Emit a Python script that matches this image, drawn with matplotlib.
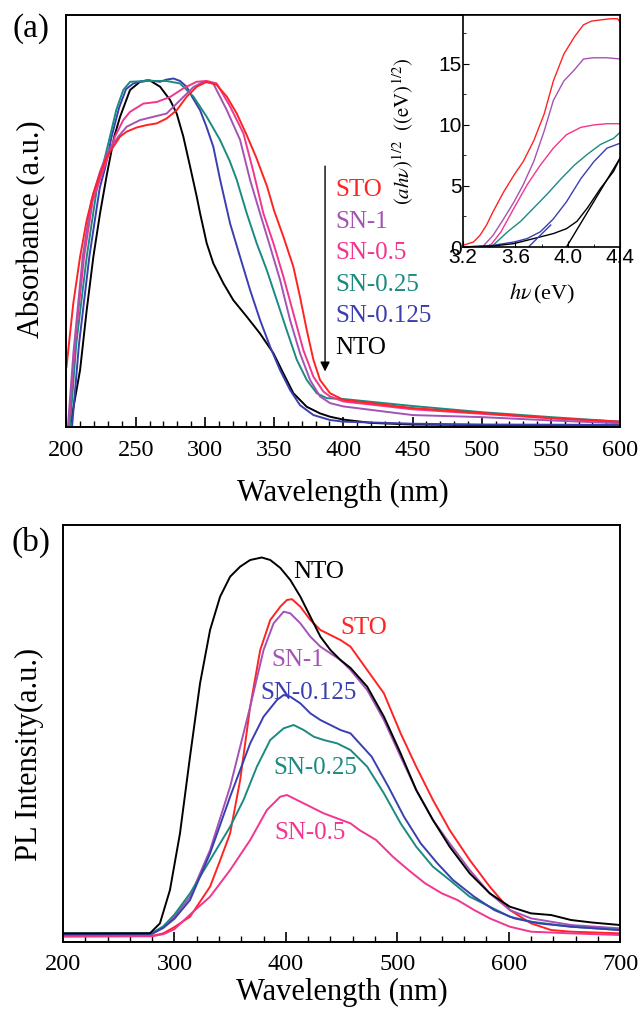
import numpy as np
import matplotlib
matplotlib.use("Agg")
from matplotlib import pyplot as plt
from matplotlib.ticker import MultipleLocator

plt.rcParams['font.family'] = ['Liberation Serif', 'DejaVu Serif']
plt.rcParams['mathtext.fontset'] = 'stix'

names = ['STO', 'SN-1', 'SN-0.5', 'SN-0.25', 'SN-0.125', 'NTO']
colors = {'STO': '#ff2323', 'SN-1': '#a453b5', 'SN-0.5': '#f2358e',
          'SN-0.25': '#1b8a80', 'SN-0.125': '#3a3fb0', 'NTO': '#000000'}

# ---- (a) absorbance, normalised ----
abs_wl = {
    'STO': [200, 204.9, 209.8, 214.6, 219.4, 224.2, 229, 233.8, 238.7, 243.5, 250.7, 258, 265.2, 272.4, 279.6, 286.9, 294.1, 301.3, 308.6, 315.8, 323, 330, 337, 345, 350, 356.7, 363.9, 368.7, 373.6, 378.4, 383.2, 390.4, 400, 450, 500, 550, 600],
    'SN-1': [201, 205, 211.7, 218, 224.2, 230, 237.5, 243.5, 253.1, 262.8, 272.4, 282, 291.7, 298.9, 306, 315.7, 325.4, 332.6, 339.8, 347.1, 354.3, 361.5, 368.7, 376, 383.2, 390.4, 400, 450, 500, 550, 600],
    'SN-0.5': [201.5, 206, 212.7, 219, 226.6, 235, 241, 245.9, 255.5, 265.2, 274.8, 284.4, 294, 301.3, 308.5, 318.2, 327.8, 335, 342.2, 349.5, 356.7, 363.9, 371.1, 378.4, 385.6, 390.4, 400, 450, 500, 550, 600],
    'SN-0.25': [202.5, 207, 214.6, 222, 226, 231.4, 236, 241, 246, 258, 272, 282, 291.7, 301.3, 310.9, 318, 323, 330.2, 337.4, 344.7, 351.9, 359.1, 366.4, 373.6, 380.8, 388, 400, 450, 500, 550, 600],
    'SN-0.125': [204, 209, 216.5, 224, 228, 232.6, 238, 243, 248.3, 258, 267.6, 272, 277.2, 282, 286.8, 291, 296.5, 301, 306.1, 311, 318.2, 325.4, 332.6, 339.8, 347.1, 354.3, 361.5, 368.7, 378.4, 390.4, 400, 450, 500, 600],
    'NTO': [202.5, 209.8, 214.6, 219.4, 224.2, 229, 234.5, 238.7, 245.9, 253.1, 260.3, 267.6, 274.8, 279.6, 284.4, 289.3, 294.1, 296.5, 301.3, 306.1, 313.3, 320.5, 330.2, 339.8, 349.5, 356.7, 363.9, 373.6, 383.2, 390.4, 400, 420, 450, 500, 600],
}
abs_val = {
    'STO': [0.146, 0.300, 0.413, 0.502, 0.567, 0.615, 0.656, 0.680, 0.705, 0.717, 0.727, 0.733, 0.737, 0.749, 0.769, 0.802, 0.826, 0.838, 0.830, 0.802, 0.761, 0.710, 0.655, 0.583, 0.525, 0.462, 0.389, 0.316, 0.235, 0.163, 0.114, 0.082, 0.066, 0.046, 0.034, 0.022, 0.013],
    'SN-1': [0.000, 0.180, 0.413, 0.550, 0.620, 0.670, 0.705, 0.729, 0.745, 0.753, 0.761, 0.793, 0.825, 0.838, 0.834, 0.770, 0.697, 0.600, 0.519, 0.438, 0.357, 0.260, 0.179, 0.114, 0.074, 0.058, 0.050, 0.029, 0.024, 0.016, 0.009],
    'SN-0.5': [0.000, 0.200, 0.413, 0.550, 0.624, 0.705, 0.745, 0.765, 0.785, 0.789, 0.801, 0.822, 0.838, 0.840, 0.834, 0.778, 0.713, 0.620, 0.519, 0.446, 0.365, 0.276, 0.187, 0.122, 0.086, 0.074, 0.062, 0.043, 0.032, 0.021, 0.012],
    'SN-0.25': [0.000, 0.200, 0.413, 0.580, 0.630, 0.705, 0.770, 0.818, 0.838, 0.840, 0.840, 0.834, 0.802, 0.753, 0.697, 0.645, 0.600, 0.519, 0.446, 0.381, 0.308, 0.235, 0.163, 0.114, 0.082, 0.070, 0.068, 0.051, 0.036, 0.024, 0.013],
    'SN-0.125': [0.000, 0.200, 0.413, 0.580, 0.630, 0.705, 0.775, 0.820, 0.834, 0.842, 0.838, 0.843, 0.846, 0.840, 0.826, 0.800, 0.769, 0.730, 0.680, 0.600, 0.494, 0.413, 0.333, 0.260, 0.195, 0.138, 0.090, 0.053, 0.029, 0.017, 0.013, 0.008, 0.006, 0.005],
    'NTO': [0.000, 0.138, 0.284, 0.413, 0.518, 0.610, 0.705, 0.753, 0.818, 0.838, 0.841, 0.826, 0.794, 0.761, 0.705, 0.632, 0.559, 0.519, 0.446, 0.397, 0.349, 0.308, 0.268, 0.227, 0.179, 0.130, 0.082, 0.049, 0.033, 0.025, 0.018, 0.010, 0.006, 0.005, 0.005],
}

# ---- inset: Tauc plot ----
tauc_e = {
    'STO': [3.20, 3.28, 3.33, 3.38, 3.43, 3.51, 3.59, 3.66, 3.74, 3.82, 3.89, 3.97, 4.05, 4.12, 4.18, 4.25, 4.33, 4.38, 4.40],
    'SN-1': [3.36, 3.43, 3.51, 3.59, 3.66, 3.74, 3.82, 3.89, 3.97, 4.05, 4.12, 4.20, 4.30, 4.40],
    'SN-0.5': [3.41, 3.49, 3.59, 3.69, 3.79, 3.89, 3.99, 4.10, 4.20, 4.30, 4.40],
    'SN-0.25': [3.43, 3.54, 3.64, 3.74, 3.84, 3.95, 4.05, 4.15, 4.25, 4.35, 4.40],
    'SN-0.125': [3.20, 3.43, 3.59, 3.69, 3.79, 3.89, 3.99, 4.10, 4.20, 4.30, 4.40],
    'NTO': [3.20, 3.43, 3.59, 3.74, 3.89, 3.99, 4.07, 4.15, 4.25, 4.35, 4.40],
}
tauc_v = {
    'STO': [0.14, 0.41, 0.96, 1.8, 2.9, 4.5, 5.9, 7.0, 8.7, 10.9, 13.6, 15.8, 17.2, 18.2, 18.5, 18.6, 18.7, 18.7, 18.4],
    'SN-1': [0.14, 0.96, 2.3, 3.7, 5.1, 7.0, 9.5, 12.0, 13.6, 14.5, 15.4, 15.5, 15.5, 15.4],
    'SN-0.5': [0.14, 1.24, 3.2, 5.1, 6.7, 8.1, 9.2, 9.8, 10.0, 10.1, 10.1],
    'SN-0.25': [0.14, 1.24, 2.1, 3.2, 4.3, 5.6, 6.7, 7.6, 8.4, 8.9, 9.4],
    'SN-0.125': [0.0, 0.14, 0.41, 0.69, 1.24, 2.3, 3.7, 5.6, 7.0, 8.1, 8.5],
    'NTO': [0.0, 0.08, 0.28, 0.69, 1.1, 1.5, 2.1, 3.2, 4.8, 6.2, 7.3],
}
# extrapolated band-edge lines
fit_e = {'SN-0.125': [3.70, 3.87], 'NTO': [3.99, 4.4]}
fit_v = {'SN-0.125': [0.0, 1.8], 'NTO': [0.0, 7.3]}

# ---- (b) PL ----
pl_wl = {
    'NTO': [200, 278, 287, 296, 305, 314, 323, 332, 341, 350, 359, 368, 378.4, 386, 395, 404, 413, 422, 431, 440, 449, 458, 473, 488, 503, 517, 532, 547, 565, 583, 601, 620, 638, 656, 675, 700],
    'STO': [200, 280, 290, 300, 314, 332, 341, 350, 359, 368, 377, 386, 395, 401, 405.5, 413, 422, 431, 440, 449, 458, 473, 488, 503, 517, 532, 547, 565, 583, 601, 620, 638, 656, 700],
    'SN-1': [200, 280, 290, 300, 314, 332, 350, 368, 380, 389, 398, 404, 413, 422, 431, 440, 449, 458, 473, 488, 503, 517, 532, 547, 565, 583, 601, 620, 656, 700],
    'SN-0.125': [200, 280, 290, 300, 314, 332, 350, 368, 380, 392, 398, 404, 413, 422, 431, 440, 449, 458, 477, 492, 506, 521, 536, 550, 569, 587, 605, 627, 656, 700],
    'SN-0.25': [200, 280, 290, 300, 314, 332, 350, 362, 374, 386, 398, 407, 416, 425, 434, 446, 458, 473, 488, 503, 517, 532, 547, 565, 583, 601, 620, 656, 700],
    'SN-0.5': [200, 280, 290, 300, 314, 332, 350, 368, 383, 395, 401, 410, 422, 434, 446, 458, 466, 481, 496, 510, 525, 540, 554, 569, 583, 601, 620, 656, 700],
}
pl_val = {
    'NTO': [0.020, 0.020, 0.044, 0.124, 0.260, 0.444, 0.620, 0.748, 0.828, 0.876, 0.900, 0.916, 0.922, 0.916, 0.897, 0.868, 0.828, 0.780, 0.732, 0.700, 0.676, 0.657, 0.612, 0.540, 0.452, 0.364, 0.292, 0.228, 0.164, 0.116, 0.084, 0.068, 0.064, 0.052, 0.046, 0.040],
    'STO': [0.014, 0.014, 0.020, 0.035, 0.060, 0.132, 0.195, 0.260, 0.388, 0.564, 0.700, 0.772, 0.804, 0.820, 0.822, 0.804, 0.772, 0.748, 0.736, 0.724, 0.708, 0.652, 0.596, 0.500, 0.420, 0.340, 0.268, 0.196, 0.132, 0.076, 0.044, 0.028, 0.024, 0.020],
    'SN-1': [0.018, 0.019, 0.035, 0.060, 0.108, 0.220, 0.372, 0.564, 0.700, 0.764, 0.792, 0.788, 0.764, 0.732, 0.708, 0.692, 0.676, 0.652, 0.604, 0.532, 0.444, 0.364, 0.292, 0.236, 0.172, 0.116, 0.076, 0.056, 0.040, 0.032],
    'SN-0.125': [0.018, 0.019, 0.033, 0.055, 0.100, 0.212, 0.348, 0.476, 0.540, 0.580, 0.592, 0.588, 0.572, 0.548, 0.532, 0.520, 0.508, 0.500, 0.444, 0.372, 0.300, 0.236, 0.188, 0.148, 0.108, 0.076, 0.056, 0.044, 0.036, 0.028],
    'SN-0.25': [0.020, 0.021, 0.037, 0.065, 0.116, 0.196, 0.276, 0.340, 0.420, 0.484, 0.512, 0.520, 0.508, 0.492, 0.484, 0.476, 0.460, 0.420, 0.356, 0.284, 0.228, 0.180, 0.148, 0.108, 0.084, 0.060, 0.048, 0.036, 0.028],
    'SN-0.5': [0.012, 0.013, 0.018, 0.030, 0.065, 0.108, 0.172, 0.244, 0.316, 0.348, 0.352, 0.340, 0.324, 0.308, 0.296, 0.284, 0.268, 0.244, 0.204, 0.172, 0.140, 0.116, 0.100, 0.076, 0.056, 0.036, 0.024, 0.020, 0.016],
}
pl_label_pos = {'NTO': (429, 0.888), 'STO': (470, 0.752), 'SN-1': (411, 0.676),
                'SN-0.125': (420, 0.596), 'SN-0.25': (426, 0.416), 'SN-0.5': (422, 0.26)}


def style_bottom(ax, major, minor):
    ax.xaxis.set_major_locator(MultipleLocator(major))
    ax.xaxis.set_minor_locator(MultipleLocator(minor))
    ax.tick_params(axis='x', which='both', direction='in', top=False, labelsize=17.5, pad=9)
    ax.tick_params(axis='x', which='major', length=7, width=1.2)
    ax.tick_params(axis='x', which='minor', length=4, width=1.0)
    ax.tick_params(axis='y', left=False, labelleft=False)
    for s in ax.spines.values():
        s.set_linewidth(1.4)


fig = plt.figure(figsize=(6.4, 10.09), dpi=100)

# panel (a)
ax1 = fig.add_axes([0.1039, 0.5768, 0.8651, 0.4083])
for n in names[::-1]:
    ax1.plot(abs_wl[n], abs_val[n], color=colors[n], lw=1.4)
ax1.set_xlim(200, 600)
ax1.set_ylim(0, 1)
style_bottom(ax1, 50, 10)
ax1.set_xlabel('Wavelength (nm)', fontsize=22)
ax1.xaxis.set_label_coords(0.5, -0.125)
ax1.set_ylabel('Absorbance (a.u.)', fontsize=22)
ax1.yaxis.set_label_coords(-0.037, 0.48)
ax1.annotate('', xy=(386.8, 0.128), xytext=(386.8, 0.64),
             arrowprops=dict(arrowstyle='-|>', color='black', lw=1.0, mutation_scale=14))
for i, n in enumerate(names):
    ax1.text(394, 0.575 - i * 0.0765, n, color=colors[n], fontsize=18, va='center', ha='left')

# inset
axi = fig.add_axes([0.7234, 0.7552, 0.2456, 0.2299])
for n in names:
    axi.plot(tauc_e[n], tauc_v[n], color=colors[n], lw=1.0)
for n in fit_e:
    axi.plot(fit_e[n], fit_v[n], color=colors[n], lw=1.0)
axi.set_xlim(3.2, 4.4)
axi.set_ylim(0, 19)
axi.xaxis.set_minor_locator(MultipleLocator(0.2))
axi.yaxis.set_major_locator(MultipleLocator(5))
axi.yaxis.set_minor_locator(MultipleLocator(2.5))
axi.set_xticks([3.2, 3.6, 4.0, 4.4])
axi.set_xticklabels(['3.2', '3.6', '4.0', '4.4'])
axi.tick_params(which='both', direction='in', labelsize=15, pad=1, top=False, right=False)
axi.tick_params(which='major', length=4)
axi.tick_params(which='minor', length=2.5)
for lab in axi.get_xticklabels() + axi.get_yticklabels():
    lab.set_family('Liberation Sans')
for s in axi.spines.values():
    s.set_linewidth(1.2)
axi.set_ylabel(r'$(ah\nu)^{1/2}\ \ ((\mathrm{eV})^{1/2})$', fontsize=15)
axi.yaxis.set_label_coords(-0.30, 0.5)
axi.set_xlabel(r'$h\nu\,$(eV)', fontsize=16)
axi.xaxis.set_label_coords(0.5, -0.15)

# panel (b)
ax2 = fig.add_axes([0.0984, 0.0667, 0.8706, 0.4130])
for n in names:
    ax2.plot(pl_wl[n], pl_val[n], color=colors[n], lw=1.4)
ax2.set_xlim(200, 700)
ax2.set_ylim(0, 1)
style_bottom(ax2, 100, 20)
ax2.set_xlabel('Wavelength (nm)', fontsize=22)
ax2.xaxis.set_label_coords(0.5, -0.088)
ax2.set_ylabel('PL Intensity(a.u.)', fontsize=22)
ax2.yaxis.set_label_coords(-0.034, 0.45)
for n in names:
    x, y = pl_label_pos[n]
    ax2.text(x, y, n, color=colors[n], fontsize=18, va='center', ha='center')

fig.text(0.048, 0.972, '(a)', fontsize=24, ha='center', va='center')
fig.text(0.048, 0.462, '(b)', fontsize=24, ha='center', va='center')

fig.savefig('out.png', dpi=100)
